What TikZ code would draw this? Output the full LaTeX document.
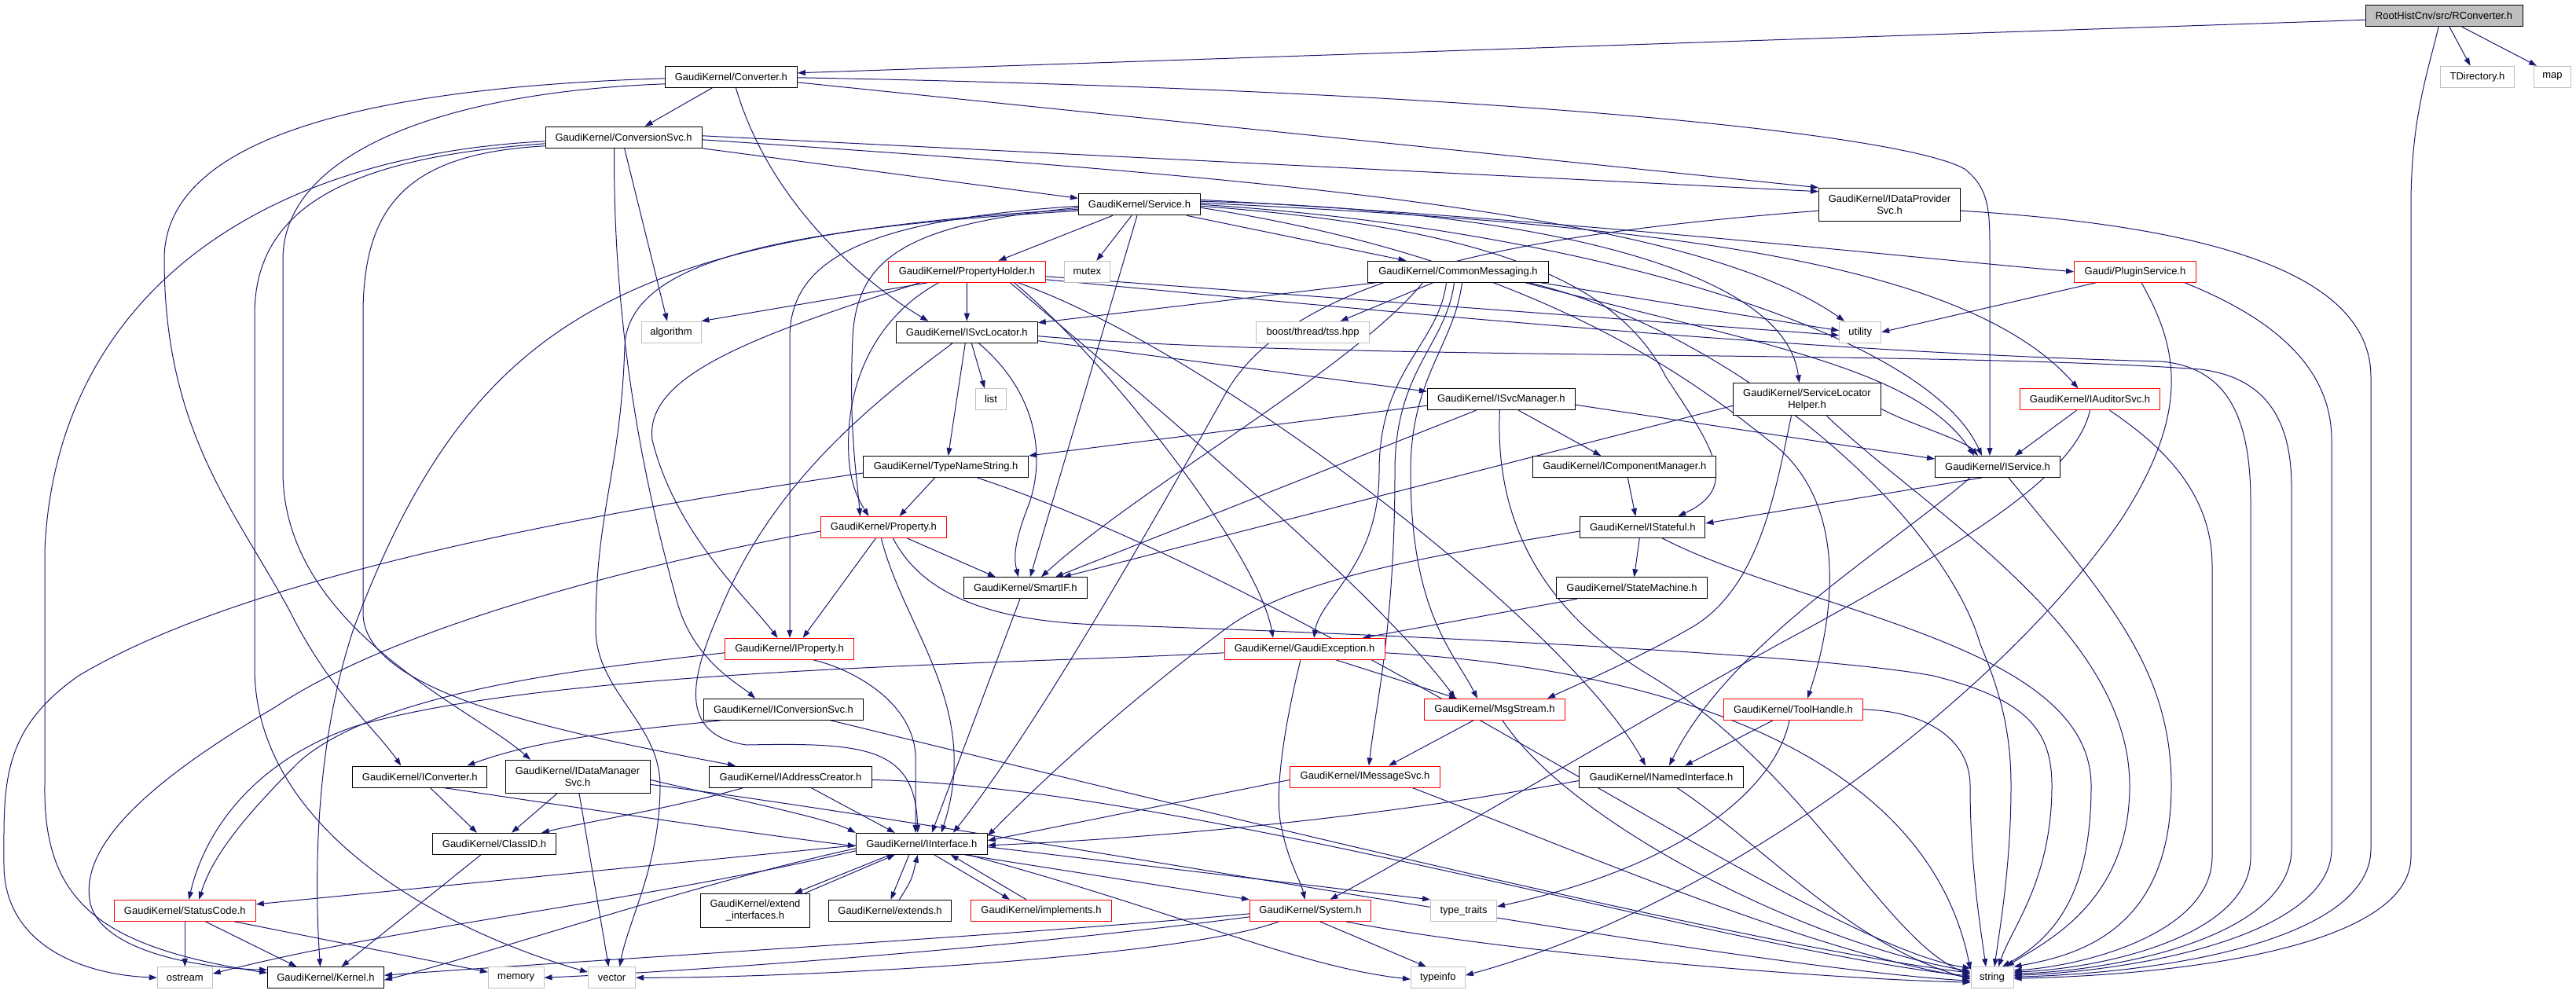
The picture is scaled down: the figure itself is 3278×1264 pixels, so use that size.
\documentclass[tikz,border=0pt]{standalone}
\usepackage{fontspec}
\setmainfont{Liberation Sans}
\usetikzlibrary{arrows.meta}
\pgfdeclarelayer{edges}
\pgfsetlayers{edges,main}
\definecolor{edgecol}{HTML}{191970}
\definecolor{extgray}{HTML}{BFBFBF}
\definecolor{rootfill}{HTML}{BFBFBF}
\newcommand\nf{\fontsize{13}{15}\selectfont}
\begin{document}
\begin{tikzpicture}[x=1pt,y=-1pt,
  nd/.style={draw=black, line width=1pt, fill=white, inner sep=0pt, minimum height=27pt, align=center, font=\nf},
  rnd/.style={nd, draw=red},
  ext/.style={nd, draw=extgray},
  dep/.style={draw=edgecol, line width=1pt, -{Triangle[length=10pt,width=7pt]}}]
\useasboundingbox (0,0) rectangle (3278,1264);
% nodes
\node[nd, minimum width=200pt, fill=rootfill] (rc) at (3110,20.3) {RootHistCnv/src/RConverter.h};
\node[ext, minimum width=94.5pt] (tdir) at (3152.5,97.7) {TDirectory.h};
\node[ext, minimum width=47.5pt] (map) at (3248,97.7) {map};
\node[nd, minimum width=168pt] (conv) at (930.4,97.8) {GaudiKernel/Converter.h};
\node[nd, minimum width=199pt] (csvc) at (793.6,174.8) {GaudiKernel/ConversionSvc.h};
\node[nd, minimum width=155pt] (service) at (1450,260.3) {GaudiKernel/Service.h};
\node[nd, minimum width=180pt, minimum height=42pt] (idps) at (2404.5,260.2) {GaudiKernel/IDataProvider\\Svc.h};
\node[rnd, minimum width=200pt] (propholder) at (1230.5,345.8) {GaudiKernel/PropertyHolder.h};
\node[ext, minimum width=58.6pt] (mutex) at (1383.3,345.8) {mutex};
\node[nd, minimum width=230pt] (commsg) at (1855.5,345.8) {GaudiKernel/CommonMessaging.h};
\node[rnd, minimum width=155pt] (plugin) at (2717,345.8) {Gaudi/PluginService.h};
\node[ext, minimum width=76pt] (algorithm) at (854,422.7) {algorithm};
\node[nd, minimum width=180pt] (isvcloc) at (1230.3,422.7) {GaudiKernel/ISvcLocator.h};
\node[ext, minimum width=144pt] (tss) at (1670.6,422.7) {boost/thread/tss.hpp};
\node[ext, minimum width=53pt] (utility) at (2367.2,422.7) {utility};
\node[ext, minimum width=39pt] (list) at (1261,508.2) {list};
\node[nd, minimum width=188pt] (isvcmgr) at (1910.4,508.2) {GaudiKernel/ISvcManager.h};
\node[nd, minimum width=188pt, minimum height=41pt] (slh) at (2299.5,508.3) {GaudiKernel/ServiceLocator\\Helper.h};
\node[rnd, minimum width=178pt] (iauditor) at (2659.5,508.2) {GaudiKernel/IAuditorSvc.h};
\node[nd, minimum width=210pt] (tns) at (1203.6,594) {GaudiKernel/TypeNameString.h};
\node[nd, minimum width=233pt] (icomp) at (2067.3,594) {GaudiKernel/IComponentManager.h};
\node[nd, minimum width=159pt] (iservice) at (2542,594) {GaudiKernel/IService.h};
\node[rnd, minimum width=160pt] (property) at (1124.4,671) {GaudiKernel/Property.h};
\node[nd, minimum width=159pt] (istateful) at (2090.3,671) {GaudiKernel/IStateful.h};
\node[nd, minimum width=157pt] (smartif) at (1304.9,748.3) {GaudiKernel/SmartIF.h};
\node[nd, minimum width=192pt] (statem) at (2076.5,748.3) {GaudiKernel/StateMachine.h};
\node[rnd, minimum width=164pt] (iproperty) at (1004.6,825.8) {GaudiKernel/IProperty.h};
\node[rnd, minimum width=204pt] (gexc) at (1660,825.8) {GaudiKernel/GaudiException.h};
\node[nd, minimum width=203.5pt] (iconvsvc) at (997,902.8) {GaudiKernel/IConversionSvc.h};
\node[rnd, minimum width=179pt] (msgstream) at (1902,902.8) {GaudiKernel/MsgStream.h};
\node[rnd, minimum width=177pt] (toolhandle) at (2282,902.8) {GaudiKernel/ToolHandle.h};
\node[nd, minimum width=171pt] (iconverter) at (534.3,988.5) {GaudiKernel/IConverter.h};
\node[nd, minimum width=184pt, minimum height=42pt] (idms) at (735,988.3) {GaudiKernel/IDataManager\\Svc.h};
\node[nd, minimum width=207pt] (iaddr) at (1006,988.5) {GaudiKernel/IAddressCreator.h};
\node[rnd, minimum width=191pt] (imsgsvc) at (1737,988.5) {GaudiKernel/IMessageSvc.h};
\node[nd, minimum width=209pt] (inamed) at (2114,988.5) {GaudiKernel/INamedInterface.h};
\node[nd, minimum width=157pt] (classid) at (629,1073.8) {GaudiKernel/ClassID.h};
\node[nd, minimum width=167pt] (iinterface) at (1172.8,1073.8) {GaudiKernel/IInterface.h};
\node[rnd, minimum width=180pt] (statuscode) at (235.3,1158.8) {GaudiKernel/StatusCode.h};
\node[nd, minimum width=139pt, minimum height=43pt] (extif) at (961,1158.8) {GaudiKernel/extend\\\_interfaces.h};
\node[nd, minimum width=156pt] (extends) at (1132.5,1158.8) {GaudiKernel/extends.h};
\node[rnd, minimum width=179pt] (implements) at (1325,1158.8) {GaudiKernel/implements.h};
\node[rnd, minimum width=154pt] (system) at (1667.5,1158.8) {GaudiKernel/System.h};
\node[ext, minimum width=84pt] (typetraits) at (1862.5,1158.8) {type\_traits};
\node[ext, minimum width=70pt] (ostream) at (235.3,1244.2) {ostream};
\node[nd, minimum width=148pt] (kernel) at (414.5,1244.2) {GaudiKernel/Kernel.h};
\node[ext, minimum width=70.6pt] (memory) at (656.7,1244.2) {memory};
\node[ext, minimum width=60pt] (vector) at (778.5,1244.2) {vector};
\node[ext, minimum width=69pt] (typeinfo) at (1829.9,1244.2) {typeinfo};
\node[ext, minimum width=54pt] (string) at (2535,1244.2) {string};

\begin{pgfonlayer}{edges}
% RConverter
\draw[dep] ([yshift=-5pt]rc.west) -- ([yshift=5pt]conv.east);
\draw[dep] ([xshift=7pt]rc.south) -- ([xshift=-9pt]tdir.north);
\draw[dep] ([xshift=23pt]rc.south) -- ([xshift=-20pt]map.north);
\draw[dep] ([xshift=-7pt]rc.south) .. controls (3090,90) and (3068,150) .. (3068,260) -- (3068,1090) .. controls (3068,1200) and (2800,1240) .. ([yshift=-1pt]string.east);
% Converter
\draw[dep] ([xshift=-24pt]conv.south) -- ([xshift=27pt]csvc.north);
\draw[dep] ([xshift=6pt]conv.south) .. controls (980,260) and (1100,360) .. ([xshift=-49pt]isvcloc.north);
\draw[dep] ([yshift=-7pt]conv.east) -- (idps.north west);
\draw[dep] ([yshift=-1pt]conv.east) .. controls (1900,115) and (2420,170) .. (2500,215) .. controls (2532,240) and (2532,270) .. (2532,320) -- ([xshift=-10pt]iservice.north);
\draw[dep] ([yshift=-2pt]conv.west) .. controls (450,112) and (209,180) .. (209,330) .. controls (209,550) and (300,650) .. (370,780) .. controls (420,880) and (480,930) .. ([xshift=-24pt]iconverter.north);
\draw[dep] ([yshift=-9pt]conv.west) .. controls (550,118) and (360,200) .. (360,330) -- (360,600) .. controls (360,800) and (600,900) .. ([xshift=-60pt]idms.north);
% ConversionSvc
\draw[dep] (csvc.south east) -- ([yshift=8pt]service.west);
\draw[dep] ([yshift=2pt]csvc.east) -- ([yshift=-5pt]idps.north west);
\draw[dep] ([xshift=1pt]csvc.south) -- ([xshift=-5pt]algorithm.north);
\draw[dep] ([yshift=-3pt]csvc.east) .. controls (1600,225) and (2150,270) .. ([xshift=-20pt]utility.north);
\draw[dep] ([xshift=-12pt]csvc.south) .. controls (780,450) and (830,650) .. (860,760) .. controls (880,840) and (940,870) .. ([xshift=-36pt]iconvsvc.north);
\draw[dep] ([yshift=-11pt]csvc.west) .. controls (520,195) and (462,260) .. (462,400) -- (462,780) .. controls (462,880) and (700,930) .. ([xshift=-70pt]iaddr.north);
\draw[dep] ([yshift=-5pt]csvc.west) .. controls (300,200) and (70,400) .. (57,700) -- (57,1000) .. controls (55,1150) and (130,1205) .. ([yshift=6pt]kernel.west);
\draw[dep] ([yshift=-8pt]csvc.west) .. controls (450,200) and (324,260) .. (324,400) -- (324,850) .. controls (324,1050) and (550,1180) .. ([yshift=7pt]vector.west);
% Service
\draw[dep] ([xshift=-34pt]service.south) -- ([xshift=40pt]propholder.north);
\draw[dep] ([xshift=-10pt]service.south) -- ([xshift=12pt]mutex.north);
\draw[dep] ([xshift=60pt]service.south) -- ([xshift=-66pt]commsg.north);
\draw[dep] ([yshift=6pt]service.east) .. controls (2000,280) and (2400,325) .. (plugin.west);
\draw[dep] ([yshift=4pt]service.east) .. controls (1900,265) and (2270,330) .. ([xshift=-10pt]slh.north);
\draw[dep] ([yshift=2pt]service.east) .. controls (2100,285) and (2500,330) .. ([xshift=-15pt]iauditor.north);
\draw[dep] (service.east) .. controls (2000,290) and (2450,420) .. ([xshift=-20pt]iservice.north);
\draw[dep] ([yshift=-2pt]service.east) .. controls (1900,290) and (2060,360) .. (2120,480) .. controls (2180,570) and (2215,620) .. ([xshift=45pt]istateful.north);
\draw[dep] ([yshift=-4pt]service.east) .. controls (1950,330) and (2150,480) .. (2250,560) .. controls (2360,640) and (2330,800) .. ([xshift=18pt]toolhandle.north);
\draw[dep] ([xshift=-3pt]service.south) -- ([xshift=6pt]smartif.north);
\draw[dep] ([yshift=-4pt]service.west) .. controls (1150,285) and (1090,330) .. (1085,430) .. controls (1080,550) and (1090,600) .. ([xshift=-30pt]property.north);
\draw[dep] ([yshift=-2pt]service.west) .. controls (1100,280) and (1005,330) .. (1005,430) -- ([xshift=0.4pt]iproperty.north);
\draw[dep] ([yshift=-6pt]service.west) .. controls (800,300) and (600,400) .. (450,800) .. controls (400,950) and (400,1120) .. ([xshift=-7pt]kernel.north);
\draw[dep] ([yshift=-8pt]service.west) .. controls (1000,290) and (800,330) .. (795,440) .. controls (790,600) and (758,650) .. (758,800) .. controls (758,880) and (840,920) .. (840,1000) .. controls (840,1100) and (800,1170) .. ([xshift=10pt]vector.north);
% PropertyHolder
\draw[dep] ([xshift=-50pt]propholder.south) -- (algorithm.north east);
\draw[dep] (propholder) -- (isvcloc);
\draw[dep] ([yshift=-6pt]propholder.east) -- ([yshift=-4pt]utility.west);
\draw[dep] ([xshift=-36pt]propholder.south) .. controls (1120,400) and (1075,480) .. (1080,580) .. controls (1082,620) and (1095,640) .. ([xshift=-19pt]property.north);
\draw[dep] ([xshift=-60pt]propholder.south) .. controls (950,430) and (820,480) .. (830,560) .. controls (860,680) and (950,760) .. ([xshift=-15pt]iproperty.north);
\draw[dep] ([xshift=60pt]propholder.south) .. controls (1400,450) and (1600,700) .. ([xshift=-40pt]gexc.north);
\draw[dep] ([xshift=55pt]propholder.south) .. controls (1450,500) and (1750,750) .. ([xshift=-50pt]msgstream.north);
\draw[dep] ([xshift=65pt]propholder.south) .. controls (1550,450) and (2000,800) .. ([xshift=-20pt]inamed.north);
\draw[dep] ([yshift=-10pt]propholder.east) .. controls (1800,400) and (2300,448) .. (2750,460) .. controls (2840,468) and (2864,540) .. (2864,640) -- (2864,1090) .. controls (2864,1190) and (2680,1232) .. ([yshift=7pt]string.east);
% CommonMessaging
\draw[dep] ([xshift=-105pt]commsg.south) -- ([yshift=-2pt]isvcloc.north east);
\draw[dep] ([xshift=-32pt]commsg.south) -- ([xshift=35pt]tss.north);
\draw[dep] ([xshift=-10pt]commsg.south east) -- ([yshift=2pt]utility.west);
\draw[dep] ([xshift=-30pt]commsg.south east) .. controls (2250,440) and (2440,470) .. ([xshift=-30pt]iservice.north);
\draw[dep] ([xshift=-45pt]commsg.south) .. controls (1720,470) and (1450,620) .. ([xshift=20pt]smartif.north);
\draw[dep] ([xshift=-15pt]commsg.south) .. controls (1830,440) and (1755,470) .. (1755,600) .. controls (1755,720) and (1680,760) .. ([xshift=12pt]gexc.north);
\draw[dep] ([xshift=-5pt]commsg.south) .. controls (1840,440) and (1775,470) .. (1775,600) .. controls (1775,800) and (1750,900) .. ([xshift=5pt]imsgsvc.north);
\draw[dep] ([xshift=5pt]commsg.south) .. controls (1850,440) and (1795,480) .. (1795,600) .. controls (1795,780) and (1850,830) .. ([xshift=-22pt]msgstream.north);
\draw[dep] ([xshift=90pt]commsg.south) .. controls (2200,420) and (2470,650) .. (2520,820) .. controls (2545,880) and (2559,930) .. (2559,1000) .. controls (2559,1100) and (2545,1180) .. ([xshift=3pt]string.north);
% PluginService
\draw[dep] ([xshift=-50pt]plugin.south) -- (utility.east);
\draw[dep] ([xshift=8pt]plugin.south) .. controls (2770,440) and (2790,520) .. (2700,660) .. controls (2550,880) and (2200,1150) .. ([yshift=3pt]typeinfo.east);
\draw[dep] ([xshift=-15pt]plugin.south east) .. controls (2880,400) and (2967,460) .. (2967,560) -- (2967,1080) .. controls (2967,1190) and (2720,1236) .. ([yshift=3pt]string.east);
% IDataProviderSvc
\draw[dep] ([yshift=-8pt]idps.west) .. controls (1900,300) and (1640,360) .. (1560,500) .. controls (1420,750) and (1300,950) .. ([xshift=40pt]iinterface.north);
\draw[dep] ([yshift=-8pt]idps.east) .. controls (2850,290) and (3017,360) .. (3017,480) -- (3017,1080) .. controls (3017,1195) and (2760,1238) .. ([yshift=1pt]string.east);
% ISvcLocator
\draw[dep] ([xshift=6pt]isvcloc.south) -- ([xshift=-8pt]list.north);
\draw[dep] ([xshift=-2pt]isvcloc.south) -- ([xshift=3pt]tns.north);
\draw[dep] ([xshift=15pt]isvcloc.south) .. controls (1320,500) and (1330,580) .. (1310,640) .. controls (1290,690) and (1290,710) .. ([xshift=-9pt]smartif.north);
\draw[dep] ([yshift=-11pt]isvcloc.east) -- ([yshift=-4pt]isvcmgr.north west);
\draw[dep] ([xshift=-18pt]isvcloc.south) .. controls (1100,520) and (980,620) .. (915,780) .. controls (880,860) and (860,935) .. (950,948) .. controls (1100,945) and (1165,950) .. ([xshift=-5pt]iinterface.north);
\draw[dep] ([yshift=-5pt]isvcloc.east) .. controls (1700,460) and (2450,445) .. (2800,470) .. controls (2880,480) and (2916,530) .. (2916,620) -- (2916,1080) .. controls (2916,1190) and (2700,1235) .. ([yshift=5pt]string.east);
% TypeNameString
\draw[dep] ([xshift=-14pt]tns.south) -- ([xshift=20pt]property.north);
\draw[dep] ([yshift=-8pt]tns.west) .. controls (700,660) and (300,740) .. (100,860) .. controls (0,930) and (5,1000) .. (5,1100) .. controls (5,1200) and (100,1240) .. (ostream.west);
\draw[dep] ([xshift=40pt]tns.south) .. controls (1700,760) and (2300,1200) .. ([yshift=12pt]string.west);
% ISvcManager
\draw[dep] ([yshift=-8pt]isvcmgr.west) -- (tns.north east);
\draw[dep] ([xshift=22pt]isvcmgr.south) -- ([xshift=-30pt]icomp.north);
\draw[dep] ([yshift=-7pt]isvcmgr.east) -- ([yshift=10pt]iservice.west);
\draw[dep] ([xshift=-32pt]isvcmgr.south) -- ([xshift=38pt]smartif.north);
\draw[dep] ([xshift=-2pt]isvcmgr.south) .. controls (1900,700) and (2000,800) .. (2100,860) .. controls (2300,980) and (2400,1200) .. ([yshift=4pt]string.west);
% ServiceLocatorHelper
\draw[dep] ([yshift=-8pt]slh.west) -- ([xshift=48pt]smartif.north);
\draw[dep] ([xshift=-20pt]slh.south) .. controls (2260,620) and (2240,750) .. (2150,800) .. controls (2080,840) and (2010,870) .. ([xshift=67pt]msgstream.north);
\draw[dep] ([yshift=-12pt]slh.east) .. controls (2430,540) and (2500,560) .. ([xshift=-25pt]iservice.north);
\draw[dep] ([xshift=25pt]slh.south) .. controls (2450,650) and (2710,800) .. (2710,1000) .. controls (2710,1150) and (2600,1200) .. ([xshift=18pt]string.north);
% IAuditorSvc
\draw[dep] ([xshift=-17pt]iauditor.south) -- ([xshift=22pt]iservice.north);
\draw[dep] (iauditor.south) .. controls (2640,610) and (2480,700) .. (2300,800) .. controls (2150,880) and (1850,1060) .. ([xshift=25pt]system.north);
\draw[dep] ([xshift=25pt]iauditor.south) .. controls (2740,560) and (2815,620) .. (2815,720) -- (2815,1090) .. controls (2815,1185) and (2660,1228) .. ([yshift=9pt]string.east);
% IComponentManager
\draw[dep] ([xshift=4pt]icomp.south) -- ([xshift=-9pt]istateful.north);
% IService
\draw[dep] ([xshift=-20pt]iservice.south) -- ([yshift=5pt]istateful.east);
\draw[dep] ([xshift=-35pt]iservice.south) .. controls (2400,700) and (2200,820) .. ([xshift=10pt]inamed.north);
\draw[dep] ([xshift=14pt]iservice.south) .. controls (2680,760) and (2763,850) .. (2763,1000) .. controls (2763,1180) and (2650,1215) .. (string.north east);
% Property
\draw[dep] ([xshift=30pt]property.south) -- ([xshift=-38pt]smartif.north);
\draw[dep] ([xshift=-10pt]property.south) -- ([xshift=17pt]iproperty.north);
\draw[dep] ([xshift=-3pt]property.south) .. controls (1150,800) and (1250,900) .. ([xshift=25pt]iinterface.north);
\draw[dep] ([yshift=-5pt]property.west) .. controls (800,720) and (500,800) .. (350,900) .. controls (180,1000) and (100,1080) .. (115,1150) .. controls (130,1210) and (250,1232) .. ([yshift=10pt]kernel.west);
\draw[dep] ([xshift=12pt]property.south) .. controls (1165,740) and (1230,790) .. (1400,795) .. controls (1700,805) and (2300,830) .. (2460,860) .. controls (2580,890) and (2611,930) .. (2611,1000) .. controls (2611,1120) and (2560,1180) .. ([xshift=8pt]string.north);
% IStateful
\draw[dep] ([xshift=-4pt]istateful.south) -- ([xshift=3pt]statem.north);
\draw[dep] ([yshift=-5pt]istateful.west) .. controls (1800,710) and (1640,740) .. (1560,800) .. controls (1400,920) and (1300,1020) .. ([yshift=10pt]iinterface.east);
\draw[dep] ([xshift=25pt]istateful.south) .. controls (2300,780) and (2661,820) .. (2661,1000) .. controls (2661,1130) and (2620,1190) .. ([xshift=13pt]string.north);
% SmartIF, StateMachine
\draw[dep] ([xshift=-7pt]smartif.south) -- ([xshift=13pt]iinterface.north);
\draw[dep] ([xshift=-70pt]statem.south) -- ([xshift=74pt]gexc.north);
% IProperty
\draw[dep] ([xshift=30pt]iproperty.south) .. controls (1080,850) and (1160,890) .. (1165,960) -- ([xshift=-7.8pt]iinterface.north);
\draw[dep] ([yshift=-5pt]iproperty.west) .. controls (750,850) and (480,880) .. (380,970) .. controls (310,1040) and (270,1090) .. ([xshift=18pt]statuscode.north);
% GaudiException
\draw[dep] ([xshift=40pt]gexc.south) -- ([xshift=-48pt]msgstream.north);
\draw[dep] ([xshift=-5pt]gexc.south) .. controls (1640,900) and (1620,1000) .. (1630,1050) .. controls (1640,1100) and (1655,1120) .. ([xshift=-7pt]system.north);
\draw[dep] ([yshift=-5pt]gexc.west) .. controls (1300,845) and (700,850) .. (450,925) .. controls (320,970) and (260,1060) .. ([xshift=5pt]statuscode.north);
\draw[dep] ([yshift=-5pt]gexc.east) .. controls (2100,850) and (2450,950) .. ([yshift=10pt]string.west);
% IConversionSvc
\draw[dep] ([xshift=-80pt]iconvsvc.south) .. controls (850,925) and (700,935) .. ([xshift=60pt]iconverter.north);
\draw[dep] ([xshift=60pt]iconvsvc.south) .. controls (1400,1000) and (2200,1200) .. ([yshift=6pt]string.west);
% MsgStream
\draw[dep] ([xshift=-27pt]msgstream.south) -- ([xshift=30pt]imsgsvc.north);
\draw[dep] ([xshift=10pt]msgstream.south) .. controls (2000,1050) and (2300,1200) .. ([yshift=8pt]string.west);
% ToolHandle
\draw[dep] ([xshift=-26pt]toolhandle.south) -- ([xshift=30pt]inamed.north);
\draw[dep] ([xshift=-5pt]toolhandle.south) .. controls (2260,1000) and (2150,1100) .. ([yshift=5pt]typetraits.east);
\draw[dep] (toolhandle.east) .. controls (2450,905) and (2507,940) .. (2507,1000) .. controls (2507,1100) and (2520,1180) .. ([xshift=-8pt]string.north);
% IConverter
\draw[dep] ([xshift=13pt]iconverter.south) -- ([xshift=-22pt]classid.north);
\draw[dep] ([xshift=30pt]iconverter.south) .. controls (750,1030) and (950,1060) .. ([yshift=-3pt]iinterface.west);
% IDataManagerSvc
\draw[dep] ([xshift=-26pt]idms.south) -- ([xshift=22pt]classid.north);
\draw[dep] ([xshift=2pt]idms.south) -- ([xshift=-4pt]vector.north);
\draw[dep] ([yshift=-4pt]idms.east) .. controls (900,1010) and (1050,1040) .. (iinterface.north west);
\draw[dep] ([yshift=-10pt]idms.east) .. controls (1300,1060) and (2200,1230) .. ([yshift=-4pt]string.west);
% IAddressCreator
\draw[dep] ([xshift=-60pt]iaddr.south) .. controls (850,1030) and (750,1045) .. ([xshift=60pt]classid.north);
\draw[dep] ([xshift=26pt]iaddr.south) -- ([xshift=-34pt]iinterface.north);
\draw[dep] ([yshift=-4pt]iaddr.east) .. controls (1500,1000) and (2200,1210) .. ([yshift=2pt]string.west);
% IMessageSvc
\draw[dep] ([yshift=-4pt]imsgsvc.west) -- ([yshift=4pt]iinterface.east);
\draw[dep] ([xshift=60pt]imsgsvc.south) .. controls (2000,1080) and (2300,1210) .. (string.west);
% INamedInterface
\draw[dep] ([yshift=-5pt]inamed.west) .. controls (1700,1050) and (1400,1070) .. ([yshift=-2pt]iinterface.east);
\draw[dep] ([xshift=20pt]inamed.south) .. controls (2250,1080) and (2350,1200) .. ([yshift=-2pt]string.west);
% ClassID, StatusCode
\draw[dep] ([xshift=-17pt]classid.south) -- ([xshift=20pt]kernel.north);
\draw[dep] (statuscode) -- (ostream);
\draw[dep] ([xshift=26pt]statuscode.south) -- ([xshift=-37pt]kernel.north);
\draw[dep] ([xshift=63pt]statuscode.south) -- ([yshift=7pt]memory.west);
% IInterface
\draw[dep] ([xshift=-40pt]iinterface.south) -- ([xshift=50pt]extif.north);
\draw[dep] ([xshift=63pt]extif.north) -- ([xshift=-34pt]iinterface.south);
\draw[dep] ([xshift=-16pt]iinterface.south) -- ([xshift=1pt]extends.north);
\draw[dep] ([xshift=12pt]extends.north) .. controls (1160,1120) .. ([xshift=-5pt]iinterface.south);
\draw[dep] ([xshift=16pt]iinterface.south) -- ([xshift=-40pt]implements.north);
\draw[dep] ([xshift=-19pt]implements.north) -- ([xshift=37pt]iinterface.south);
\draw[dep] ([xshift=55pt]iinterface.south) -- (system.north west);
\draw[dep] ([yshift=-2pt]iinterface.west) -- ([yshift=8pt]statuscode.east);
\draw[dep] ([yshift=-6pt]iinterface.west) .. controls (900,1120) and (600,1220) .. ([yshift=-3pt]kernel.east);
\draw[dep] ([yshift=-9pt]iinterface.west) .. controls (800,1150) and (500,1180) .. ([yshift=5pt]ostream.east);
\draw[dep] ([yshift=-4pt]iinterface.east) -- (typetraits.north west);
\draw[dep] ([xshift=-25pt]iinterface.south east) .. controls (1500,1160) and (1650,1230) .. ([yshift=-2pt]typeinfo.west);
% System
\draw[dep] ([xshift=12pt]system.south) -- ([xshift=-15pt]typeinfo.north);
\draw[dep] ([yshift=-4pt]system.west) .. controls (1300,1190) and (700,1225) .. ([yshift=3pt]kernel.east);
\draw[dep] ([yshift=-8pt]system.west) .. controls (1300,1205) and (900,1235) .. (memory.east);
\draw[dep] ([xshift=-40pt]system.south) .. controls (1500,1220) and (1000,1245) .. (vector.east);
\draw[dep] ([xshift=45pt]system.south) .. controls (1900,1210) and (2300,1245) .. ([yshift=-6pt]string.west);
\end{pgfonlayer}
\end{tikzpicture}
\end{document}
